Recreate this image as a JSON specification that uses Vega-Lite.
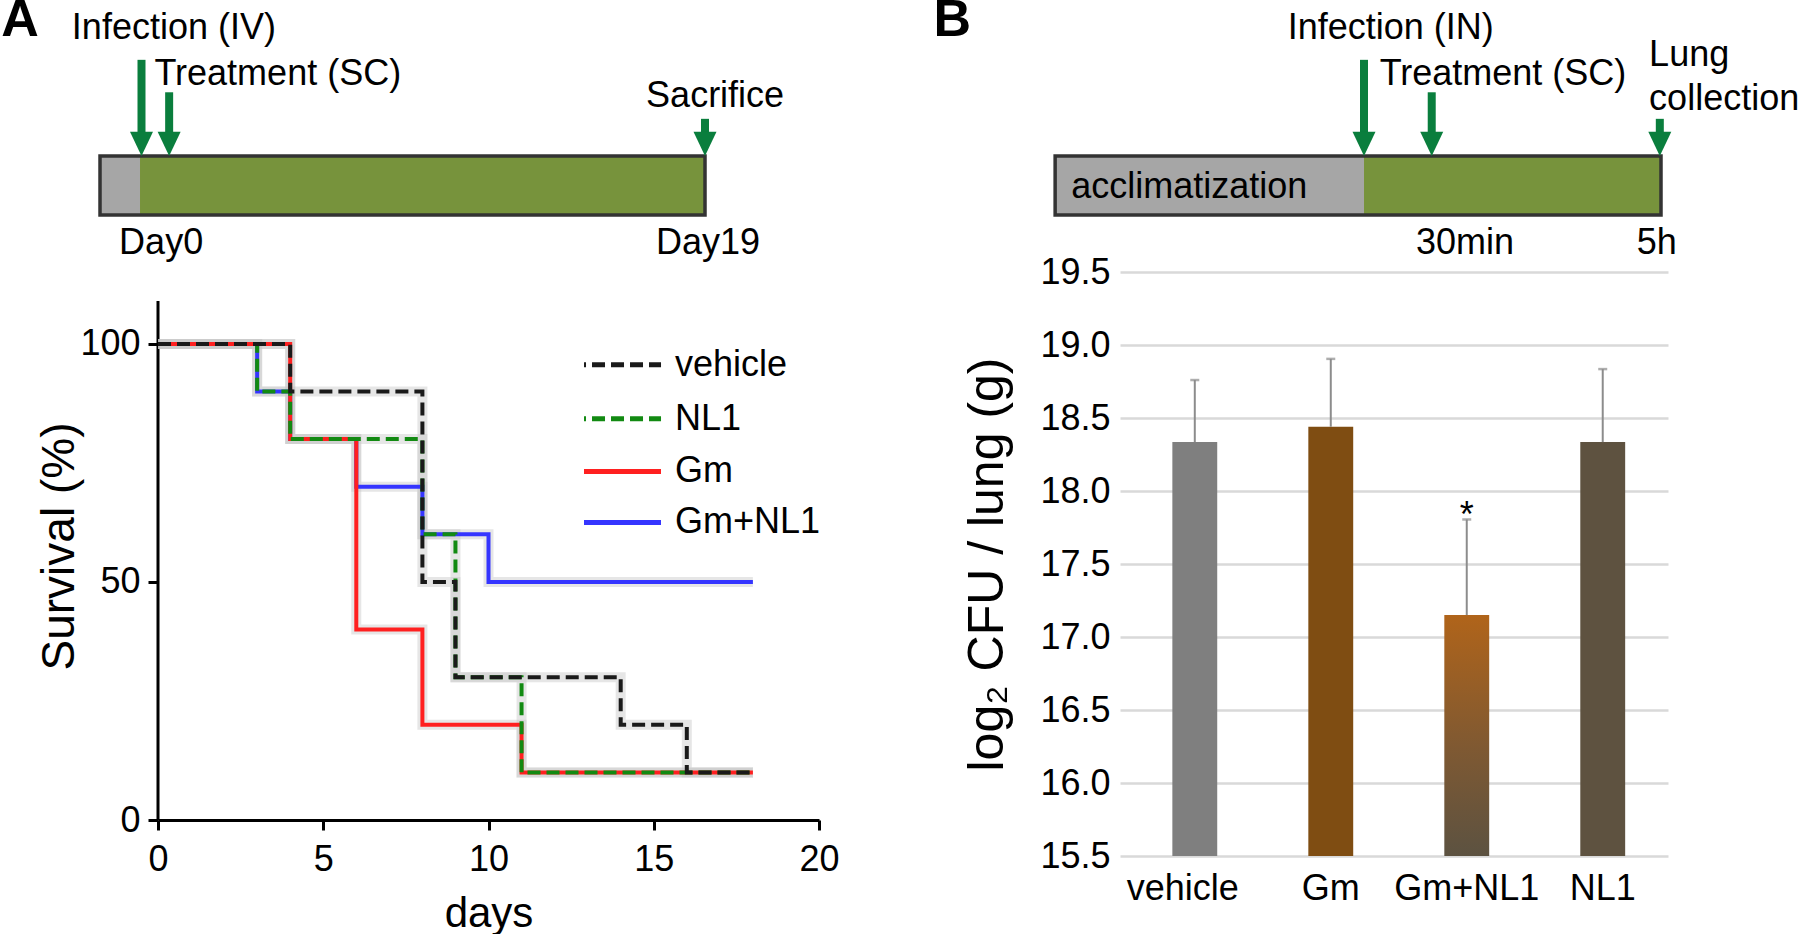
{
  "$schema": "https://vega.github.io/schema/vega-lite/v6.json",
  "background": "white",
  "padding": {"left": 1, "top": -6, "right": 0, "bottom": 0},
  "config": {
    "font": "Liberation Sans",
    "view": {"stroke": null},
    "axis": {"labelFont": "Liberation Sans", "titleFont": "Liberation Sans", "labelColor": "black", "titleColor": "black", "titleFontWeight": "normal", "labelFontSize": 36},
    "text": {"font": "Liberation Sans", "color": "black"}
  },
  "columns": 2,
  "bounds": "flush",
  "spacing": {"row": 57, "column": 301},
  "resolve": {"scale": {"color": "independent", "strokeDash": "independent", "x": "independent", "y": "independent"}},
  "concat": [
    {
      "width": 547,
      "height": 59,
      "layer": [
        {
          "data": {"values": [{"phase": "Acclimatization", "start": -1.345, "end": 0}, {"phase": "Experiment", "start": 0, "end": 19}]},
          "mark": {"type": "rect"},
          "encoding": {
            "x": {"field": "start", "type": "quantitative", "scale": {"domain": [0.605, 19], "nice": false, "zero": false}, "axis": null},
            "x2": {"field": "end"},
            "y": {"datum": 0, "type": "quantitative", "scale": {"domain": [0, 1], "nice": false, "zero": false}, "axis": null},
            "y2": {"datum": 1},
            "color": {"field": "phase", "type": "nominal", "scale": {"domain": ["Acclimatization", "Experiment"], "range": ["#a6a6a6", "#77933c"]}, "legend": null}
          }
        },
        {
          "data": {"values": [{"start": -1.345, "end": 19}]},
          "mark": {"type": "rect", "filled": false, "stroke": "#333333", "strokeWidth": 3.5},
          "encoding": {
            "x": {"field": "start", "type": "quantitative"},
            "x2": {"field": "end"},
            "y": {"datum": 0, "type": "quantitative"},
            "y2": {"datum": 1}
          }
        },
        {
          "data": {"values": [{"event": "Infection (IV)", "day": 0.05, "top": 2.63}, {"event": "Treatment (SC)", "day": 0.98, "top": 2.08}, {"event": "Sacrifice", "day": 19, "top": 1.63}]},
          "layer": [
            {
              "mark": {"type": "rule", "color": "#0a7e3d", "strokeWidth": 8},
              "encoding": {"x": {"field": "day", "type": "quantitative"}, "y": {"field": "top", "type": "quantitative"}, "y2": {"datum": 1.3}}
            },
            {
              "mark": {"type": "point", "shape": "M-1,-2.1L1,-2.1L0,0Z", "filled": true, "color": "#0a7e3d", "size": 529, "opacity": 1, "strokeWidth": 0},
              "encoding": {"x": {"field": "day", "type": "quantitative"}, "y": {"datum": 1, "type": "quantitative"}}
            }
          ]
        },
        {
          "data": {"values": [{"label": "Infection (IV)", "day": 1.14, "lvl": 3.17}, {"label": "Sacrifice", "day": 19.34, "lvl": 2.02}, {"label": "Day0", "day": 0.71, "lvl": -0.48}, {"label": "Day19", "day": 19.1, "lvl": -0.48}]},
          "mark": {"type": "text", "fontSize": 36, "align": "center", "baseline": "middle"},
          "encoding": {"x": {"field": "day", "type": "quantitative"}, "y": {"field": "lvl", "type": "quantitative"}, "text": {"field": "label"}}
        },
        {
          "data": {"values": [{"label": "Treatment (SC)", "day": 0.485, "lvl": 2.39}]},
          "mark": {"type": "text", "fontSize": 36, "align": "left", "baseline": "middle"},
          "encoding": {"x": {"field": "day", "type": "quantitative"}, "y": {"field": "lvl", "type": "quantitative"}, "text": {"field": "label"}}
        },
        {
          "data": {"values": [{"label": "A", "day": -4.035, "lvl": 3.305}]},
          "mark": {"type": "text", "fontSize": 52, "fontWeight": "bold", "align": "center", "baseline": "middle"},
          "encoding": {"x": {"field": "day", "type": "quantitative"}, "y": {"field": "lvl", "type": "quantitative"}, "text": {"field": "label"}}
        }
      ]
    },
    {
      "width": 541,
      "height": 59,
      "layer": [
        {
          "data": {"values": [{"phase": "Acclimatization", "start": -5.2, "end": 0}, {"phase": "Experiment", "start": 0, "end": 5}]},
          "mark": {"type": "rect"},
          "encoding": {
            "x": {"field": "start", "type": "quantitative", "scale": {"domain": [-4.108, 5], "nice": false, "zero": false}, "axis": null},
            "x2": {"field": "end"},
            "y": {"datum": 0, "type": "quantitative", "scale": {"domain": [0, 1], "nice": false, "zero": false}, "axis": null},
            "y2": {"datum": 1},
            "color": {"field": "phase", "type": "nominal", "scale": {"domain": ["Acclimatization", "Experiment"], "range": ["#a6a6a6", "#77933c"]}, "legend": null}
          }
        },
        {
          "data": {"values": [{"start": -5.2, "end": 5}]},
          "mark": {"type": "rect", "filled": false, "stroke": "#333333", "strokeWidth": 3.5},
          "encoding": {
            "x": {"field": "start", "type": "quantitative"},
            "x2": {"field": "end"},
            "y": {"datum": 0, "type": "quantitative"},
            "y2": {"datum": 1}
          }
        },
        {
          "data": {"values": [{"event": "Infection (IN)", "t": 0, "top": 2.63}, {"event": "Treatment (SC)", "t": 1.14, "top": 2.08}, {"event": "Lung collection", "t": 4.98, "top": 1.63}]},
          "layer": [
            {
              "mark": {"type": "rule", "color": "#0a7e3d", "strokeWidth": 8},
              "encoding": {"x": {"field": "t", "type": "quantitative"}, "y": {"field": "top", "type": "quantitative"}, "y2": {"datum": 1.3}}
            },
            {
              "mark": {"type": "point", "shape": "M-1,-2.1L1,-2.1L0,0Z", "filled": true, "color": "#0a7e3d", "size": 529, "opacity": 1, "strokeWidth": 0},
              "encoding": {"x": {"field": "t", "type": "quantitative"}, "y": {"datum": 1, "type": "quantitative"}}
            }
          ]
        },
        {
          "data": {"values": [{"label": "Infection (IN)", "t": 0.45, "lvl": 3.17}, {"label": "Treatment (SC)", "t": 2.34, "lvl": 2.39}, {"label": "30min", "t": 1.7, "lvl": -0.47}, {"label": "5h", "t": 4.93, "lvl": -0.47}]},
          "mark": {"type": "text", "fontSize": 36, "align": "center", "baseline": "middle"},
          "encoding": {"x": {"field": "t", "type": "quantitative"}, "y": {"field": "lvl", "type": "quantitative"}, "text": {"field": "label"}}
        },
        {
          "data": {"values": [{"label": "acclimatization", "t": -4.93, "lvl": 0.47}, {"label": "Lung", "t": 4.8, "lvl": 2.71}, {"label": "collection", "t": 4.8, "lvl": 1.97}]},
          "mark": {"type": "text", "fontSize": 36, "align": "left", "baseline": "middle"},
          "encoding": {"x": {"field": "t", "type": "quantitative"}, "y": {"field": "lvl", "type": "quantitative"}, "text": {"field": "label"}}
        },
        {
          "data": {"values": [{"label": "B", "t": -6.93, "lvl": 3.305}]},
          "mark": {"type": "text", "fontSize": 52, "fontWeight": "bold", "align": "center", "baseline": "middle"},
          "encoding": {"x": {"field": "t", "type": "quantitative"}, "y": {"field": "lvl", "type": "quantitative"}, "text": {"field": "label"}}
        }
      ]
    },
    {
      "width": 661,
      "height": 548,
      "data": {"values": [
        {"series": "Gm+NL1", "day": 0, "survival": 100},
        {"series": "Gm+NL1", "day": 3, "survival": 90},
        {"series": "Gm+NL1", "day": 4, "survival": 80},
        {"series": "Gm+NL1", "day": 6, "survival": 70},
        {"series": "Gm+NL1", "day": 8, "survival": 60},
        {"series": "Gm+NL1", "day": 10, "survival": 50},
        {"series": "Gm+NL1", "day": 18, "survival": 50},
        {"series": "Gm", "day": 0, "survival": 100},
        {"series": "Gm", "day": 4, "survival": 80},
        {"series": "Gm", "day": 6, "survival": 40},
        {"series": "Gm", "day": 8, "survival": 20},
        {"series": "Gm", "day": 11, "survival": 10},
        {"series": "Gm", "day": 18, "survival": 10},
        {"series": "NL1", "day": 0, "survival": 100},
        {"series": "NL1", "day": 3, "survival": 90},
        {"series": "NL1", "day": 4, "survival": 80},
        {"series": "NL1", "day": 8, "survival": 60},
        {"series": "NL1", "day": 9, "survival": 30},
        {"series": "NL1", "day": 11, "survival": 10},
        {"series": "NL1", "day": 18, "survival": 10},
        {"series": "vehicle", "day": 0, "survival": 100},
        {"series": "vehicle", "day": 4, "survival": 90},
        {"series": "vehicle", "day": 8, "survival": 50},
        {"series": "vehicle", "day": 9, "survival": 30},
        {"series": "vehicle", "day": 14, "survival": 20},
        {"series": "vehicle", "day": 16, "survival": 10},
        {"series": "vehicle", "day": 18, "survival": 10}
      ]},
      "layer": [
        {
          "data": {"values": [{"day": 0, "survival": 0, "top": 109}]},
          "mark": {"type": "rule", "color": "black", "strokeWidth": 3},
          "encoding": {"x": {"field": "day", "type": "quantitative"}, "y": {"field": "survival", "type": "quantitative"}, "y2": {"field": "top"}}
        },
        {
          "mark": {"type": "line", "interpolate": "step-after", "strokeWidth": 10, "color": "#c8c8c8", "opacity": 0.45},
          "encoding": {"x": {"field": "day", "type": "quantitative"}, "y": {"field": "survival", "type": "quantitative"}, "detail": {"field": "series"}}
        },
        {
          "mark": {"type": "line", "interpolate": "step-after", "strokeWidth": 4},
          "encoding": {
            "x": {"field": "day", "type": "quantitative", "scale": {"domain": [0, 20], "nice": false, "zero": false}, "axis": {"values": [0, 5, 10, 15, 20], "title": "days", "titleFontSize": 42, "tickSize": 10, "tickWidth": 3, "tickColor": "black", "domainColor": "black", "domainWidth": 3, "labelFlush": false, "labelPadding": 12, "titlePadding": 16, "grid": false}},
            "y": {"field": "survival", "type": "quantitative", "scale": {"domain": [0, 115.1], "nice": false}, "axis": {"values": [0, 50, 100], "title": "Survival (%)", "titleFontSize": 46, "domain": false, "tickSize": 10, "tickWidth": 3, "tickColor": "black", "labelPadding": 8, "titlePadding": -4, "grid": false}},
            "color": {"field": "series", "type": "nominal", "scale": {"domain": ["vehicle", "NL1", "Gm", "Gm+NL1"], "range": ["#1a1a1a", "#128a12", "#ff2020", "#3535ff"]}, "legend": null},
            "strokeDash": {"field": "series", "type": "nominal", "scale": {"domain": ["vehicle", "NL1", "Gm", "Gm+NL1"], "range": [[13, 6], [13, 6], [1, 0], [1, 0]]}, "legend": null}
          }
        },
        {
          "data": {"values": [
            {"series": "vehicle", "from": 12.89, "to": 15.22, "labelAt": 15.64, "row": 95.6},
            {"series": "NL1", "from": 12.89, "to": 15.22, "labelAt": 15.64, "row": 84.3},
            {"series": "Gm", "from": 12.89, "to": 15.22, "labelAt": 15.64, "row": 73.2},
            {"series": "Gm+NL1", "from": 12.89, "to": 15.22, "labelAt": 15.64, "row": 62.5}
          ]},
          "layer": [
            {
              "mark": {"type": "rule", "strokeWidth": 5, "strokeDashOffset": 11},
              "encoding": {
                "x": {"field": "from", "type": "quantitative"},
                "x2": {"field": "to"},
                "y": {"field": "row", "type": "quantitative"},
                "color": {"field": "series", "type": "nominal", "legend": null},
                "strokeDash": {"field": "series", "type": "nominal", "legend": null}
              }
            },
            {
              "mark": {"type": "text", "fontSize": 36, "align": "left", "baseline": "middle"},
              "encoding": {
                "x": {"field": "labelAt", "type": "quantitative"},
                "y": {"field": "row", "type": "quantitative"},
                "text": {"field": "series"}
              }
            }
          ]
        }
      ]
    },
    {
      "width": 548,
      "height": 584,
      "data": {"values": [
        {"group": "vehicle", "mean": 18.335, "upper": 18.76, "sig": ""},
        {"group": "Gm", "mean": 18.44, "upper": 18.905, "sig": ""},
        {"group": "Gm+NL1", "mean": 17.15, "upper": 17.805, "sig": "*"},
        {"group": "NL1", "mean": 18.335, "upper": 18.835, "sig": ""}
      ]},
      "layer": [
        {
          "transform": [{"filter": "datum.group !== 'Gm+NL1'"}],
          "mark": {"type": "bar"},
          "encoding": {
            "x": {"field": "group", "type": "nominal", "scale": {"domain": ["vehicle", "Gm", "Gm+NL1", "NL1"], "paddingInner": 0.67, "paddingOuter": 0.35, "align": 0.55}, "axis": {"title": null, "labelAngle": 0, "domain": false, "ticks": false, "labelFontSize": 36, "labelPadding": 15, "labelOffset": {"condition": {"test": "datum.value === 'vehicle'", "value": -12}, "value": 0}}},
            "y": {"field": "mean", "type": "quantitative", "scale": {"domain": [15.5, 19.5], "nice": false, "zero": false}, "axis": {"values": [15.5, 16, 16.5, 17, 17.5, 18, 18.5, 19, 19.5], "format": ".1f", "domain": false, "ticks": false, "grid": true, "gridColor": "#d9d9d9", "gridWidth": 2.5, "labelPadding": 10, "title": "log₂ CFU / lung (g)", "titleFontSize": 50, "titlePadding": 27}},
            "y2": {"datum": 15.5},
            "color": {"field": "group", "type": "nominal", "scale": {"domain": ["vehicle", "Gm", "NL1"], "range": ["#7f7f7f", "#7f4d12", "#5e5240"]}, "legend": null}
          }
        },
        {
          "transform": [{"filter": "datum.group === 'Gm+NL1'"}],
          "mark": {"type": "bar", "fill": {"gradient": "linear", "x1": 0, "y1": 0, "x2": 0, "y2": 1, "stops": [{"offset": 0, "color": "#b0641a"}, {"offset": 0.55, "color": "#7f5932"}, {"offset": 1, "color": "#5c5241"}]}},
          "encoding": {
            "x": {"field": "group", "type": "nominal"},
            "y": {"field": "mean", "type": "quantitative"},
            "y2": {"datum": 15.5}
          }
        },
        {
          "mark": {"type": "rule", "color": "#8c8c8c", "strokeWidth": 2},
          "encoding": {"x": {"field": "group", "type": "nominal"}, "y": {"field": "mean", "type": "quantitative"}, "y2": {"field": "upper"}}
        },
        {
          "mark": {"type": "tick", "color": "#8c8c8c", "size": 9, "thickness": 2.5},
          "encoding": {"x": {"field": "group", "type": "nominal"}, "y": {"field": "upper", "type": "quantitative"}}
        },
        {
          "transform": [{"filter": "datum.sig !== ''"}],
          "mark": {"type": "text", "fontSize": 36, "baseline": "alphabetic", "align": "center", "dy": 8},
          "encoding": {"x": {"field": "group", "type": "nominal"}, "y": {"field": "upper", "type": "quantitative"}, "text": {"field": "sig"}}
        }
      ]
    }
  ]
}
